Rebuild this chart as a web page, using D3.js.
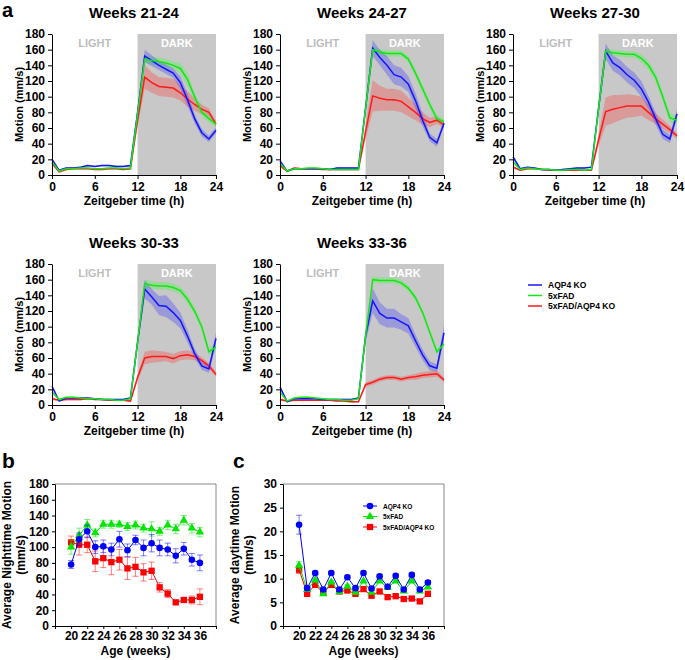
<!DOCTYPE html>
<html>
<head>
<meta charset="utf-8">
<script src="https://cdn.jsdelivr.net/npm/d3@7"></script>
<style>
  body { margin: 0; background: #fff; }
  svg { display: block; font-family: "Liberation Sans", Arial, sans-serif; font-weight: bold; }
</style>
</head>
<body>
<svg id="chart" width="685" height="660"></svg>
<script>
// ---- panel a: hourly motion, one row per age window ----
const hours = [0, 1, 2, 3, 4, 5, 6, 7, 8, 9, 10, 11, 12, 13, 14, 15, 16, 17, 18, 19, 20, 21, 22, 23];
const windows = ['Weeks 21-24', 'Weeks 24-27', 'Weeks 27-30', 'Weeks 30-33', 'Weeks 33-36'];
const seriesNames = ['AQP4 KO', '5xFAD', '5xFAD/AQP4 KO'];

const koMotion = [
  [20, 6, 9, 9, 10, 12, 11, 12, 12, 11, 11, 12, 80, 152, 146, 140, 135, 130, 118, 96, 72, 54, 46, 57],
  [18, 5, 8, 8, 8, 8, 8, 7, 9, 9, 9, 9, 85, 162, 150, 140, 128, 125, 116, 95, 70, 48, 41, 66],
  [23, 8, 10, 9, 7, 7, 6, 7, 8, 9, 9, 10, 85, 158, 143, 137, 128, 121, 110, 93, 72, 52, 46, 78],
  [24, 5, 9, 9, 9, 9, 8, 7, 7, 7, 7, 9, 80, 148, 138, 127, 126, 118, 108, 88, 66, 50, 46, 85],
  [23, 4, 8, 8, 8, 8, 7, 7, 7, 7, 7, 9, 88, 133, 117, 111, 111, 106, 101, 82, 64, 50, 47, 92]
];
const fadMotion = [
  [17, 5, 8, 8, 9, 9, 8, 8, 9, 9, 8, 9, 78, 148, 146, 145, 143, 140, 136, 122, 100, 80, 72, 65],
  [15, 5, 8, 8, 9, 9, 8, 7, 7, 7, 7, 7, 85, 160, 157, 155, 155, 155, 148, 130, 110, 90, 72, 68],
  [17, 7, 9, 8, 7, 7, 6, 6, 7, 7, 6, 7, 85, 158, 156, 155, 154, 154, 149, 140, 125, 100, 73, 70],
  [17, 7, 10, 10, 9, 8, 8, 7, 7, 6, 6, 8, 80, 155, 153, 152, 152, 150, 146, 135, 120, 100, 68, 74],
  [17, 5, 9, 10, 10, 9, 8, 7, 7, 6, 6, 8, 88, 160, 159, 159, 159, 156, 149, 137, 118, 93, 68, 78]
];
const dblMotion = [
  [15, 4, 7, 8, 8, 8, 7, 7, 8, 8, 7, 8, 70, 125, 118, 113, 112, 111, 105, 97, 90, 84, 80, 65],
  [12, 5, 9, 8, 8, 8, 7, 7, 7, 7, 7, 7, 55, 101, 98, 96, 96, 94, 87, 80, 72, 67, 70, 64],
  [10, 6, 8, 8, 7, 6, 6, 6, 6, 6, 6, 6, 45, 81, 84, 86, 88, 88, 88, 80, 72, 65, 58, 50],
  [8, 6, 7, 7, 7, 8, 7, 7, 6, 6, 6, 5, 35, 60, 62, 62, 62, 59, 63, 64, 62, 57, 50, 39],
  [7, 5, 6, 6, 6, 6, 6, 6, 5, 5, 4, 4, 26, 29, 33, 35, 35, 33, 35, 36, 38, 39, 40, 32]
];
// SEM bands
const koSem = [
  [3, 1, 1, 1, 1, 1, 1, 1, 1, 1, 1, 1, 6, 8, 7, 6, 6, 6, 8, 8, 6, 5, 4, 4],
  [3, 1, 1, 1, 1, 1, 1, 1, 1, 1, 1, 1, 6, 10, 10, 12, 12, 12, 10, 10, 8, 5, 5, 4],
  [3, 1, 1, 1, 1, 1, 1, 1, 1, 1, 1, 1, 6, 10, 10, 10, 10, 10, 10, 8, 8, 6, 5, 6],
  [3, 1, 1, 1, 1, 1, 1, 1, 1, 1, 1, 1, 6, 12, 10, 12, 14, 12, 10, 8, 6, 5, 5, 8],
  [3, 1, 1, 1, 1, 1, 1, 1, 1, 1, 1, 1, 8, 16, 14, 12, 12, 10, 10, 8, 7, 6, 5, 10]
];
const fadSem = [
  [2, 1, 1, 1, 1, 1, 1, 1, 1, 1, 1, 1, 5, 5, 5, 5, 5, 5, 7, 8, 6, 5, 5, 4],
  [2, 1, 1, 1, 1, 1, 1, 1, 1, 1, 1, 1, 4, 4, 4, 4, 4, 4, 4, 5, 5, 5, 5, 4],
  [2, 1, 1, 1, 1, 1, 1, 1, 1, 1, 1, 1, 4, 4, 4, 4, 4, 4, 5, 6, 6, 6, 6, 6],
  [2, 1, 1, 1, 1, 1, 1, 1, 1, 1, 1, 1, 4, 5, 5, 5, 5, 5, 5, 5, 5, 5, 5, 5],
  [2, 1, 1, 1, 1, 1, 1, 1, 1, 1, 1, 1, 4, 4, 4, 4, 4, 4, 4, 4, 4, 4, 4, 4]
];
const dblSem = [
  [3, 1, 1, 1, 1, 1, 1, 1, 1, 1, 1, 1, 8, 15, 13, 12, 12, 12, 10, 10, 8, 6, 5, 4],
  [3, 1, 1, 1, 1, 1, 1, 1, 1, 1, 1, 1, 10, 20, 16, 14, 14, 14, 12, 10, 8, 6, 5, 4],
  [2, 1, 1, 1, 1, 1, 1, 1, 1, 1, 1, 1, 8, 18, 18, 16, 15, 14, 12, 10, 7, 6, 5, 4],
  [2, 1, 1, 1, 1, 1, 1, 1, 1, 1, 1, 1, 4, 8, 8, 7, 6, 6, 6, 6, 5, 4, 4, 3],
  [2, 1, 1, 1, 1, 1, 1, 1, 1, 1, 1, 1, 3, 3, 3, 3, 3, 3, 3, 4, 4, 4, 4, 3]
];
const hourTicks = [0, 6, 12, 18, 23];
const hourTickLabels = ['0', '6', '12', '18', '24'];

// ---- panels b and c: weekly averages ----
const ages = [20, 21, 22, 23, 24, 25, 26, 27, 28, 29, 30, 31, 32, 33, 34, 35, 36];
const ageTicks = [20, 22, 24, 26, 28, 30, 32, 34, 36];

const nightKo = [78, 110, 120, 100, 101, 97, 110, 96, 109, 99, 105, 99, 97, 89, 98, 84, 80];
const nightKoErr = [5, 8, 8, 8, 8, 8, 10, 8, 6, 10, 11, 10, 8, 9, 8, 8, 10];
const nightFad = [100, 115, 128, 118, 129, 129, 129, 126, 128, 124, 123, 120, 128, 123, 134, 124, 119];
const nightFadErr = [9, 9, 7, 5, 5, 5, 4, 5, 5, 5, 9, 5, 6, 6, 6, 6, 6];
const nightDbl = [106, 103, 103, 82, 86, 81, 84, 73, 75, 68, 70, 49, 41, 30, 33, 33, 37];
const nightDblErr = [8, 13, 10, 13, 12, 16, 13, 14, 12, 11, 11, 6, 5, 2, 3, 5, 10];

const dayKo = [21.4, 8.0, 11.2, 7.7, 11.2, 7.7, 10.3, 8.0, 11.2, 7.9, 10.5, 8.3, 10.6, 7.7, 10.8, 7.7, 9.2];
const dayKoErr = [2.0, 0.4, 0.4, 0.4, 0.4, 0.4, 0.4, 0.4, 0.4, 0.4, 0.4, 0.4, 0.4, 0.4, 0.4, 0.4, 0.4];
const dayFad = [12.8, 7.7, 9.7, 6.8, 9.3, 7.2, 8.4, 7.1, 9.5, 7.1, 9.5, 8.1, 9.5, 7.4, 9.5, 7.4, 8.2];
const dayFadErr = [0.8, 0.3, 0.3, 0.3, 0.3, 0.3, 0.3, 0.3, 0.3, 0.3, 0.3, 0.3, 0.3, 0.3, 0.3, 0.3, 0.3];
const dayDbl = [11.9, 6.8, 8.7, 7.0, 8.7, 7.3, 7.5, 6.8, 7.8, 6.4, 7.3, 6.1, 6.3, 5.7, 5.8, 5.2, 6.8];
const dayDblErr = [0.8, 0.3, 0.3, 0.3, 0.3, 0.3, 0.3, 0.3, 0.3, 0.3, 0.3, 0.3, 0.3, 0.3, 0.3, 0.3, 0.3];

const lineColors = ['#1414ff', '#14e614', '#ff1a1a'];
const bandColors = ['#3a3aff', '#3aff3a', '#ff3a3a'];
const markerColors = ['#0000ff', '#00e600', '#ff0000'];

const svg = d3.select('#chart');

// panel letters
svg.append('text').attr('x', 2).attr('y', 17).attr('font-size', 20).text('a');
svg.append('text').attr('x', 2).attr('y', 468).attr('font-size', 21).text('b');
svg.append('text').attr('x', 233).attr('y', 468).attr('font-size', 21).text('c');

// where each hourly panel sits (left, top of 180 gridline)
const slots = [[52, 34], [280, 34], [513, 34], [52, 264], [280, 264]];

function drawHourPanel(k) {
  const [left, top] = slots[k];
  const w = 164, h = 141;
  const g = svg.append('g').attr('transform', `translate(${left},${top})`);
  const x = d3.scaleLinear().domain([0, 23]).range([0, w]);
  const y = d3.scaleLinear().domain([0, 180]).range([h, 0]);

  // dark phase
  g.append('rect')
    .attr('x', x(12)).attr('y', 0)
    .attr('width', x(23) - x(12)).attr('height', h)
    .attr('fill', '#c8c8c8');
  g.append('text').attr('x', (x(0) + x(12)) / 2).attr('y', 13)
    .attr('text-anchor', 'middle').attr('font-size', 11).attr('fill', '#bdbdbd').text('LIGHT');
  g.append('text').attr('x', (x(12) + x(23)) / 2).attr('y', 13)
    .attr('text-anchor', 'middle').attr('font-size', 11).attr('fill', '#fff').text('DARK');

  const means = [koMotion[k], fadMotion[k], dblMotion[k]];
  const sems = [koSem[k], fadSem[k], dblSem[k]];

  [2, 1, 0].forEach(s => {
    const area = d3.area()
      .x((d, j) => x(hours[j]))
      .y0((d, j) => y(Math.max(0, d - sems[s][j])))
      .y1((d, j) => y(d + sems[s][j]));
    g.append('path').datum(means[s]).attr('d', area)
      .attr('fill', bandColors[s]).attr('fill-opacity', 0.32);
  });
  [2, 0, 1].forEach(s => {
    const line = d3.line().x((d, j) => x(hours[j])).y(d => y(d));
    g.append('path').datum(means[s]).attr('d', line)
      .attr('fill', 'none').attr('stroke', lineColors[s]).attr('stroke-width', 1.5);
  });

  const yAxis = d3.axisLeft(y).tickValues(d3.range(0, 181, 20)).tickSize(4).tickPadding(3).tickSizeOuter(0);
  const xAxis = d3.axisBottom(x).tickValues(hourTicks).tickFormat((d, i) => hourTickLabels[i])
    .tickSize(4).tickPadding(3).tickSizeOuter(0);
  g.append('g').call(yAxis).call(a => a.selectAll('text').attr('font-size', 12).attr('font-family', null));
  g.append('g').attr('transform', `translate(0,${h})`).call(xAxis)
    .call(a => a.selectAll('text').attr('font-size', 12).attr('font-family', null));

  g.append('text').attr('x', w / 2).attr('y', -16).attr('text-anchor', 'middle')
    .attr('font-size', 15).text(windows[k]);
  g.append('text').attr('transform', `translate(-29,${h / 2}) rotate(-90)`)
    .attr('text-anchor', 'middle').attr('font-size', 11).text('Motion (mm/s)');
  g.append('text').attr('x', w / 2).attr('y', h + 30).attr('text-anchor', 'middle')
    .attr('font-size', 12).text('Zeitgeber time (h)');
}

windows.forEach((_, k) => drawHourPanel(k));

// legend for panel a
const legA = svg.append('g').attr('transform', 'translate(528,285)');
seriesNames.forEach((name, i) => {
  legA.append('line').attr('x1', 0).attr('x2', 14).attr('y1', i * 10.5).attr('y2', i * 10.5)
    .attr('stroke', lineColors[i]).attr('stroke-width', 1.5);
  legA.append('text').attr('x', 20).attr('y', i * 10.5 + 3).attr('font-size', 8.5).text(name);
});

const symbols = [d3.symbolCircle, d3.symbolTriangle, d3.symbolSquare];
const symbolSizes = [34, 30, 40];

function drawAgePanel(left, right, top, bottom, ymax, ystep, series, errs, label1, withLegend) {
  const g = svg.append('g');
  const x = d3.scaleLinear().domain([18, 38]).range([left, right]);
  const y = d3.scaleLinear().domain([0, ymax]).range([bottom, top]);

  // frame
  g.append('path').attr('d', `M${left},${top}H${right}V${bottom}`)
    .attr('fill', 'none').attr('stroke', '#888').attr('stroke-width', 1);

  [2, 1, 0].forEach(s => {
    const col = markerColors[s];
    g.append('g').selectAll('line').data(ages).join('line')
      .attr('x1', d => x(d)).attr('x2', d => x(d))
      .attr('y1', (d, j) => y(series[s][j] - errs[s][j]))
      .attr('y2', (d, j) => y(series[s][j] + errs[s][j]))
      .attr('stroke', col).attr('stroke-opacity', 0.5);
    [-1, 1].forEach(sign => {
      g.append('g').selectAll('line').data(ages).join('line')
        .attr('x1', d => x(d) - 3).attr('x2', d => x(d) + 3)
        .attr('y1', (d, j) => y(series[s][j] + sign * errs[s][j]))
        .attr('y2', (d, j) => y(series[s][j] + sign * errs[s][j]))
        .attr('stroke', col).attr('stroke-opacity', 0.5);
    });
    g.append('path').datum(series[s])
      .attr('d', d3.line().x((d, j) => x(ages[j])).y(d => y(d)))
      .attr('fill', 'none').attr('stroke', col).attr('stroke-width', 1);
    g.append('g').selectAll('path').data(series[s]).join('path')
      .attr('transform', (d, j) => `translate(${x(ages[j])},${y(d)})`)
      .attr('d', d3.symbol(symbols[s], symbolSizes[s]))
      .attr('fill', col);
  });

  const yAxis = d3.axisLeft(y).tickValues(d3.range(0, ymax + 1, ystep)).tickSize(3).tickPadding(3).tickSizeOuter(0);
  g.append('g').attr('transform', `translate(${left},0)`).call(yAxis)
    .call(a => a.selectAll('text').attr('font-size', 12).attr('font-family', null));
  const xAxis = d3.axisBottom(x).tickValues(d3.range(18, 39, 2))
    .tickFormat(d => ageTicks.includes(d) ? d : '').tickSize(3).tickPadding(2).tickSizeOuter(0);
  g.append('g').attr('transform', `translate(0,${bottom})`).call(xAxis)
    .call(a => a.selectAll('text').attr('font-size', 12).attr('font-family', null));

  g.append('text').attr('x', (left + right) / 2).attr('y', 655).attr('text-anchor', 'middle')
    .attr('font-size', 12).text('Age (weeks)');
  const cy = (top + bottom) / 2;
  g.append('text').attr('transform', `translate(${left - 44},${cy}) rotate(-90)`)
    .attr('text-anchor', 'middle').attr('font-size', 12).text(label1);
  g.append('text').attr('transform', `translate(${left - 30},${cy}) rotate(-90)`)
    .attr('text-anchor', 'middle').attr('font-size', 12).text('(mm/s)');

  if (withLegend) {
    const leg = svg.append('g').attr('transform', 'translate(363,506)');
    [0, 1, 2].forEach(i => {
      leg.append('line').attr('x1', 0).attr('x2', 14).attr('y1', i * 10.5).attr('y2', i * 10.5)
        .attr('stroke', markerColors[i]);
      leg.append('path').attr('transform', `translate(7,${i * 10.5})`)
        .attr('d', d3.symbol(symbols[i], symbolSizes[i])).attr('fill', markerColors[i]);
      leg.append('text').attr('x', 20).attr('y', i * 10.5 + 2.5).attr('font-size', 6.5).text(seriesNames[i]);
    });
  }
}

drawAgePanel(55, 216, 484, 626, 180, 20,
  [nightKo, nightFad, nightDbl], [nightKoErr, nightFadErr, nightDblErr],
  'Average Nighttime Motion', false);
drawAgePanel(283, 444, 484, 626, 30, 5,
  [dayKo, dayFad, dayDbl], [dayKoErr, dayFadErr, dayDblErr],
  'Average daytime Motion', true);
</script>
</body>
</html>
